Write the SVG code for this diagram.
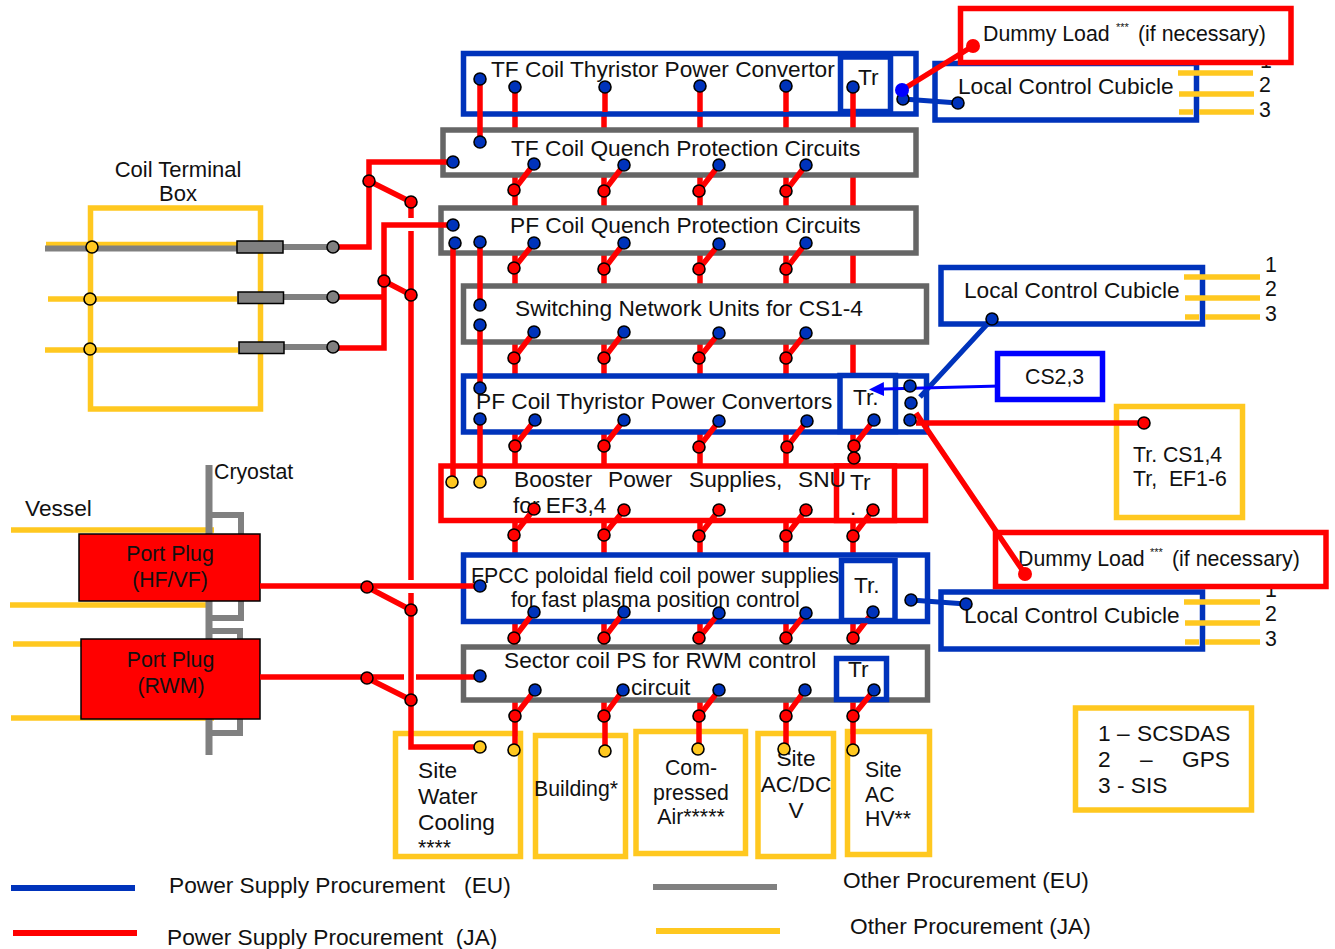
<svg xmlns="http://www.w3.org/2000/svg" width="1335" height="949" viewBox="0 0 1335 949">
<style>
text{font-family:"Liberation Sans",Arial,sans-serif;font-size:22.7px;fill:#111;white-space:pre}
.s{font-size:21.3px}
.c{font-size:22px}
.m{text-anchor:middle}
.sup{font-size:11px}
rect{fill:#fff}
.b{stroke:#0033BB;stroke-width:5.5}
.g{stroke:#666;stroke-width:5.5}
.r{stroke:#f00;stroke-width:5.5}
.y{stroke:#FFC820;stroke-width:5.5}
.bb{stroke:#00f;stroke-width:5.5}
.blk{fill:#808080;stroke:#000;stroke-width:1.5}
.pp{fill:#f00;stroke:#000;stroke-width:1.5}
path,line{fill:none}
.lr{stroke:#f00;stroke-width:5.5}
.ly{stroke:#FFC820;stroke-width:5.5}
.lg{stroke:#808080;stroke-width:6}
.lb{stroke:#0033BB;stroke-width:5}
.lbb{stroke:#00f;stroke-width:3}
circle{stroke:#000;stroke-width:1.6}
.db{fill:#0033BB}.dr{fill:#f00}.dy{fill:#FFC820}.dg{fill:#808080}
.nr{fill:#f00;stroke:none}.nb{fill:#00f;stroke:none}
</style>
<defs>
<marker id="ah" markerUnits="userSpaceOnUse" markerWidth="16" markerHeight="14" refX="0" refY="7" orient="auto"><path d="M0 0L15 7L0 14z" style="fill:#00f"/></marker>
</defs>
<g id="connectors-under">
<path class="lr" d="M515 100V720M604 100V720M700 100V720M786 100V720M853 127V720"/>
</g>

<g id="cryostat">
<path class="ly" d="M11 530H214M10 605H207M13 644H81M11 718H214"/>
<path class="lg" d="M209 465V755" style="stroke-width:7"/>
<path class="lg" d="M209 515H241V534M241 601V618H209M209 631H240V639M240 718V733H209"/>
<text class="s" x="214" y="479">Cryostat</text>
<text x="25" y="516">Vessel</text>
</g>
<g id="plug-hf"><rect class="pp" x="79" y="534" width="181" height="67"/><text class="s m" x="170" y="561">Port Plug</text><text class="s m" x="170" y="587">(HF/VF)</text></g>
<g id="plug-rwm"><rect class="pp" x="81" y="639" width="179" height="80"/><text class="s m" x="170.500" y="667">Port Plug</text><text class="s m" x="171" y="693">(RWM)</text></g>

<g id="coil-terminal-box">
<rect class="y" x="90.500" y="208" width="170" height="201"/>
<path class="ly" d="M46 244.500H237M48 299H237M45 350H238"/>
<path class="lg" d="M45 248.500H237M283 247H333M283 297H333M284 347H333"/>
<rect class="blk" x="237" y="241" width="46" height="12"/>
<rect class="blk" x="238" y="292" width="45.500" height="11.500"/>
<rect class="blk" x="239" y="342" width="45" height="11.500"/>
<text class="c m" x="178" y="177">Coil Terminal</text><text class="c m" x="178" y="201">Box</text>
</g>

<g id="tf-thyristor"><rect class="b" x="463.500" y="53.500" width="452.500" height="60.500"/><rect class="b" x="840.500" y="57" width="50" height="54.500"/><text x="491" y="77">TF Coil Thyristor Power Convertor</text><text x="858" y="85">Tr</text></g>
<g id="tf-quench"><rect class="g" x="443" y="130" width="473" height="45"/><text x="511" y="156">TF Coil Quench Protection Circuits</text></g>
<g id="pf-quench"><rect class="g" x="441" y="208" width="475" height="45"/><text x="510" y="233">PF Coil Quench Protection Circuits</text></g>
<g id="switching"><rect class="g" x="463.500" y="286" width="463" height="56"/><text x="515" y="316">Switching Network Units for CS1-4</text></g>
<g id="pf-thyristor"><rect class="b" x="463.500" y="376" width="463" height="56"/><rect class="b" x="840" y="375.500" width="55.500" height="56"/><text x="476" y="409">PF Coil Thyristor Power Convertors</text><text x="853" y="405">Tr.</text></g>
<g id="booster"><rect class="r" x="441" y="466" width="484.500" height="54.500"/><rect class="r" x="836.500" y="466" width="58" height="54.500"/>
<text x="514" y="487">Booster</text><text x="608" y="487">Power</text><text x="689" y="487">Supplies,</text><text x="798" y="487">SNU</text><text x="513" y="513">for EF3,4</text><text x="850" y="490">Tr</text><text x="850" y="515">.</text></g>
<g id="fpcc"><rect class="b" x="463.500" y="555" width="464" height="66.500"/><text class="s" x="471" y="583">FPCC poloidal field coil power supplies</text><text class="s" x="511" y="607">for fast plasma position control</text><text x="854" y="593">Tr.</text></g>
<g id="sector"><rect class="g" x="463.500" y="647" width="464" height="53"/><rect class="b" x="836.500" y="658.500" width="50" height="41"/><text x="504" y="668">Sector coil PS for RWM control</text><text x="631" y="695">circuit</text><text x="848" y="677">Tr</text></g>

<g id="local-control-1"><rect class="b" x="935" y="63.500" width="261.500" height="56.500"/><text x="958" y="94">Local Control Cubicle</text><path class="ly" d="M1178 73H1253M1179 94H1254M1179 112H1193M1199 112H1254"/><text class="s m" x="1266" y="68">1</text><text class="s m" x="1265" y="92">2</text><text class="s m" x="1265" y="117">3</text></g>
<g id="dummy-1"><rect class="r" x="960.500" y="8.500" width="330.500" height="54"/><text class="s" x="983" y="41">Dummy Load</text><text class="sup" x="1116" y="31">***</text><text class="s" x="1138" y="41">(if necessary)</text></g>
<g id="local-control-2"><rect class="b" x="941" y="267.500" width="261.500" height="56.500"/><text x="964" y="298">Local Control Cubicle</text><path class="ly" d="M1184 277H1260M1185 298H1260M1185 317H1199M1205 317H1260"/><text class="s m" x="1271" y="272">1</text><text class="s m" x="1271" y="296">2</text><text class="s m" x="1271" y="321">3</text></g>
<g id="cs23"><rect class="bb" x="997.500" y="353.500" width="105" height="46"/><text class="s" x="1025" y="384">CS2,3</text></g>
<g id="tr-cs"><rect class="y" x="1116.500" y="406.500" width="126" height="111"/><text class="s" x="1133" y="462">Tr. CS1,4</text><text class="s" x="1133" y="486">Tr,  EF1-6</text></g>
<g id="local-control-3"><rect class="b" x="941" y="592" width="261.500" height="57"/><text x="964" y="623">Local Control Cubicle</text><path class="ly" d="M1184 602H1260M1185 623H1260M1185 642H1199M1205 642H1260"/><text class="s m" x="1271" y="597">1</text><text class="s m" x="1271" y="621">2</text><text class="s m" x="1271" y="646">3</text></g>
<g id="dummy-2"><rect class="r" x="995.500" y="532.500" width="330.500" height="54"/><text class="s" x="1018" y="566">Dummy Load</text><text class="sup" x="1150" y="556">***</text><text class="s" x="1172" y="566">(if necessary)</text></g>

<g id="site-water"><rect class="y" x="395.500" y="733.500" width="125" height="123"/><text x="418" y="778">Site</text><text x="418" y="804">Water</text><text x="418" y="830">Cooling</text><text class="s" x="418" y="855">****</text></g>
<g id="building"><rect class="y" x="535.500" y="735.500" width="90" height="121"/><text class="s" x="534" y="796">Building*</text></g>
<g id="compressed"><rect class="y" x="636" y="731.500" width="109.500" height="122"/><text class="s m" x="691" y="775">Com-</text><text class="s m" x="691" y="800">pressed</text><text class="s m" x="691" y="824">Air*****</text></g>
<g id="site-acdc"><rect class="y" x="758" y="733.500" width="75.500" height="123"/><text class="m" x="796" y="766">Site</text><text class="m" x="796" y="792">AC/DC</text><text class="m" x="796" y="818">V</text></g>
<g id="site-ac"><rect class="y" x="847.500" y="731.500" width="82" height="123"/><text class="s" x="865" y="777">Site</text><text class="s" x="865" y="802">AC</text><text class="s" x="865" y="826">HV**</text></g>
<g id="key"><rect class="y" x="1075.500" y="708" width="176" height="102"/><text x="1098" y="741">1</text><text x="1117" y="741">–</text><text x="1137" y="741">SCSDAS</text><text x="1098" y="767">2</text><text x="1140" y="767">–</text><text x="1182" y="767">GPS</text><text x="1098" y="793">3 - SIS</text></g>

<g id="legend">
<line x1="11" y1="888" x2="135" y2="888" style="stroke:#0033BB;stroke-width:6"/><text x="169" y="893">Power Supply Procurement   (EU)</text>
<line x1="13" y1="933" x2="137" y2="933" style="stroke:#f00;stroke-width:6"/><text x="167" y="945">Power Supply Procurement  (JA)</text>
<line x1="653" y1="887" x2="777" y2="887" style="stroke:#808080;stroke-width:6"/><text x="843" y="888">Other Procurement (EU)</text>
<line x1="656" y1="931" x2="780" y2="931" style="stroke:#FFC820;stroke-width:6"/><text x="850" y="934">Other Procurement (JA)</text>
</g>

<g id="connectors">
<path class="lr" d="M515 87V112M605 87V112M700 87V112M786 87V112M853 87V127M480 79V142"/>
<path class="lr" d="M514 190L534 164M604 191L624 165M699 191L719 165M786 191L806 165"/>
<path class="lr" d="M514 268L534 243M604 269L624 243M699 269L719 244M786 269L806 243"/>
<path class="lr" d="M514 358L534 332M604 358L624 332M699 358L719 333M786 358L806 333"/>
<path class="lr" d="M515 446L535 420M604 446L624 420M699 447L719 421M787 447L807 421M854 446L874 420"/>
<path class="lr" d="M514 535L534 509M604 535L624 510M699 536L719 510M786 536L806 510M853 536L873 510"/>
<path class="lr" d="M514 638L534 612M604 638L624 612M699 638L719 613M786 638L806 613M853 638L873 612"/>
<path class="lr" d="M515 716L535 690M604 716L623 690M699 716L719 690M786 716L805 690M853 716L874 690"/>
<path class="lr" d="M515 716V750M605 716V751M699 716V749M786 716V749M853 716V750"/>
<path class="lr" d="M338 247H369V162H453M369 181L411 202M338 297H384M338 348H384V225H453M384 281L411 295"/>
<path class="lr" d="M411 202V218M411 231V580M411 593V747H480"/>
<path class="lr" d="M260 586H480M367 587L411 610M260 677H404M416 677H480M367 678L411 700"/>
<path class="lr" d="M453 243V482M480 242V305M480 325V388M480 419V482"/>
<path class="lr" d="M902 90L973 46M916 413L1025 574M916 423L1144 423"/>
<path class="lb" d="M903 99L958 103M911 600L966 604M992 319L920 397"/>
<path class="lbb" d="M1000 386L884 389" marker-end="url(#ah)"/>
</g>
<g id="fpcc-tr-frame"><rect class="b" x="841.500" y="560.500" width="53.500" height="60" style="fill:none"/></g>
<g id="terminals">
<circle class="db" cx="480" cy="79" r="6"/><circle class="db" cx="515" cy="87" r="6"/><circle class="db" cx="605" cy="87" r="6"/><circle class="db" cx="700" cy="86" r="6"/><circle class="db" cx="786" cy="86" r="6"/><circle class="db" cx="853" cy="87" r="6"/>
<circle class="db" cx="903" cy="99" r="6"/><circle class="nb" cx="902" cy="90" r="7"/><circle class="nr" cx="973" cy="46" r="7"/><circle class="db" cx="958" cy="103" r="6"/>
<circle class="db" cx="480" cy="142" r="6"/><circle class="db" cx="453" cy="162" r="6"/>
<circle class="db" cx="534" cy="164" r="6"/><circle class="db" cx="624" cy="165" r="6"/><circle class="db" cx="719" cy="165" r="6"/><circle class="db" cx="806" cy="165" r="6"/>
<circle class="dr" cx="514" cy="190" r="6"/><circle class="dr" cx="604" cy="191" r="6"/><circle class="dr" cx="699" cy="191" r="6"/><circle class="dr" cx="786" cy="191" r="6"/>
<circle class="db" cx="453" cy="225" r="6"/><circle class="db" cx="455" cy="243" r="6"/><circle class="db" cx="480" cy="242" r="6"/>
<circle class="db" cx="534" cy="243" r="6"/><circle class="db" cx="624" cy="243" r="6"/><circle class="db" cx="719" cy="244" r="6"/><circle class="db" cx="806" cy="243" r="6"/>
<circle class="dr" cx="514" cy="268" r="6"/><circle class="dr" cx="604" cy="269" r="6"/><circle class="dr" cx="699" cy="269" r="6"/><circle class="dr" cx="786" cy="269" r="6"/>
<circle class="db" cx="480" cy="305" r="6"/><circle class="db" cx="480" cy="325" r="6"/>
<circle class="db" cx="534" cy="332" r="6"/><circle class="db" cx="624" cy="332" r="6"/><circle class="db" cx="719" cy="333" r="6"/><circle class="db" cx="806" cy="333" r="6"/>
<circle class="dr" cx="514" cy="358" r="6"/><circle class="dr" cx="604" cy="358" r="6"/><circle class="dr" cx="699" cy="358" r="6"/><circle class="dr" cx="786" cy="358" r="6"/>
<circle class="db" cx="480" cy="388" r="6"/><circle class="db" cx="480" cy="419" r="6"/>
<circle class="db" cx="535" cy="420" r="6"/><circle class="db" cx="624" cy="420" r="6"/><circle class="db" cx="719" cy="421" r="6"/><circle class="db" cx="807" cy="421" r="6"/><circle class="db" cx="874" cy="420" r="6"/>
<circle class="db" cx="910" cy="386" r="6"/><circle class="db" cx="911" cy="403" r="6"/><circle class="db" cx="910" cy="420" r="6"/>
<circle class="dr" cx="515" cy="446" r="6"/><circle class="dr" cx="604" cy="446" r="6"/><circle class="dr" cx="699" cy="447" r="6"/><circle class="dr" cx="787" cy="447" r="6"/><circle class="dr" cx="854" cy="446" r="6"/><circle class="dr" cx="854" cy="458" r="6"/>
<circle class="dy" cx="452" cy="482" r="6"/><circle class="dy" cx="480" cy="482" r="6"/>
<circle class="dr" cx="534" cy="509" r="6"/><circle class="dr" cx="624" cy="510" r="6"/><circle class="dr" cx="719" cy="510" r="6"/><circle class="dr" cx="806" cy="510" r="6"/><circle class="dr" cx="873" cy="510" r="6"/>
<circle class="dr" cx="514" cy="535" r="6"/><circle class="dr" cx="604" cy="535" r="6"/><circle class="dr" cx="699" cy="536" r="6"/><circle class="dr" cx="786" cy="536" r="6"/><circle class="dr" cx="853" cy="536" r="6"/>
<circle class="db" cx="480" cy="586" r="6"/><circle class="db" cx="534" cy="612" r="6"/><circle class="db" cx="624" cy="612" r="6"/><circle class="db" cx="719" cy="613" r="6"/><circle class="db" cx="806" cy="613" r="6"/><circle class="db" cx="873" cy="612" r="6"/><circle class="db" cx="911" cy="600" r="6"/><circle class="db" cx="966" cy="604" r="6"/>
<circle class="dr" cx="514" cy="638" r="6"/><circle class="dr" cx="604" cy="638" r="6"/><circle class="dr" cx="699" cy="638" r="6"/><circle class="dr" cx="786" cy="638" r="6"/><circle class="dr" cx="853" cy="638" r="6"/>
<circle class="db" cx="480" cy="676" r="6"/><circle class="db" cx="535" cy="690" r="6"/><circle class="db" cx="623" cy="690" r="6"/><circle class="db" cx="719" cy="690" r="6"/><circle class="db" cx="805" cy="690" r="6"/><circle class="db" cx="874" cy="690" r="6"/>
<circle class="dr" cx="515" cy="716" r="6"/><circle class="dr" cx="604" cy="716" r="6"/><circle class="dr" cx="699" cy="716" r="6"/><circle class="dr" cx="786" cy="716" r="6"/><circle class="dr" cx="853" cy="716" r="6"/>
<circle class="dy" cx="480" cy="747" r="6"/><circle class="dy" cx="514" cy="750" r="6"/><circle class="dy" cx="605" cy="751" r="6"/><circle class="dy" cx="698" cy="749" r="6"/><circle class="dy" cx="784" cy="749" r="6"/><circle class="dy" cx="853" cy="750" r="6"/>
<circle class="dy" cx="92" cy="247" r="6"/><circle class="dy" cx="90" cy="299" r="6"/><circle class="dy" cx="90" cy="349" r="6"/>
<circle class="dg" cx="333" cy="247" r="6"/><circle class="dg" cx="333" cy="297" r="6"/><circle class="dg" cx="333" cy="347" r="6"/>
<circle class="dr" cx="369" cy="181" r="6"/><circle class="dr" cx="411" cy="202" r="6"/><circle class="dr" cx="384" cy="281" r="6"/><circle class="dr" cx="411" cy="295" r="6"/>
<circle class="dr" cx="367" cy="587" r="6"/><circle class="dr" cx="411" cy="610" r="6"/><circle class="dr" cx="367" cy="678" r="6"/><circle class="dr" cx="411" cy="700" r="6"/>
<circle class="db" cx="992" cy="319" r="6"/><circle class="dr" cx="1144" cy="423" r="6"/><circle class="nr" cx="1025" cy="574" r="7"/>
</g>
</svg>
